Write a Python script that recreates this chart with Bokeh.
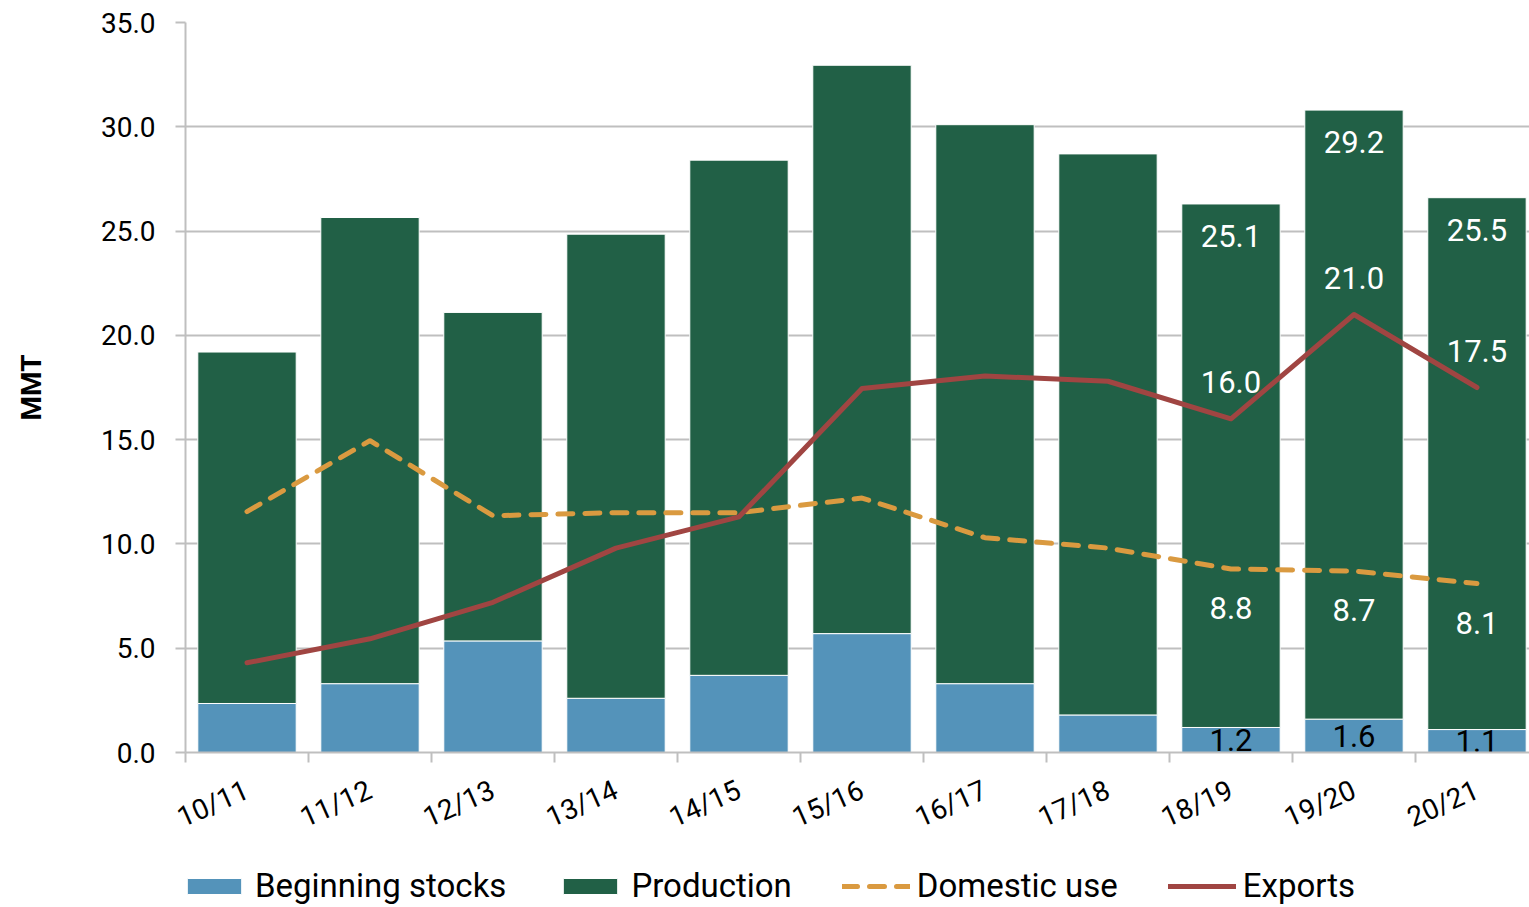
from bokeh.plotting import figure
from bokeh.layouts import column
from bokeh.models import ColumnDataSource, Range1d, FixedTicker, Legend, LegendItem
from bokeh.core.properties import value
from bokeh.embed import file_html
from bokeh.resources import INLINE

years = ["10/11", "11/12", "12/13", "13/14", "14/15", "15/16", "16/17", "17/18", "18/19", "19/20", "20/21"]
beginning_stocks = [2.35, 3.3, 5.35, 2.6, 3.7, 5.7, 3.3, 1.8, 1.2, 1.6, 1.1]
production = [16.85, 22.35, 15.75, 22.25, 24.7, 27.25, 26.8, 26.9, 25.1, 29.2, 25.5]
domestic_use = [11.55, 14.95, 11.35, 11.5, 11.5, 12.2, 10.3, 9.8, 8.8, 8.7, 8.1]
exports = [4.3, 5.45, 7.2, 9.8, 11.3, 17.45, 18.05, 17.8, 16.0, 21.0, 17.5]
y_ticks = [0, 5, 10, 15, 20, 25, 30, 35]
labeled = [8, 9, 10]

FONT = "Roboto"
BLUE = "#5493BA"
GREEN = "#216046"
ORANGE = "#DA9A40"
RED = "#A04542"
GRID = "#BFBFBF"

xs = list(range(len(years)))
totals = [b + p for b, p in zip(beginning_stocks, production)]
src = ColumnDataSource(dict(x=xs, stocks=beginning_stocks, prod=production, total=totals,
                            dom=domestic_use, exp=exports))


def add_series(fig, visible=True):
    r1 = fig.vbar(x="x", top="stocks", bottom=0, width=0.8, source=src,
                  fill_color=BLUE, line_color="white", line_width=1, visible=visible)
    r2 = fig.vbar(x="x", top="total", bottom="stocks", width=0.8, source=src,
                  fill_color=GREEN, line_color="white", line_width=1, visible=visible)
    r3 = fig.line(x="x", y="dom", source=src, line_color=ORANGE, line_width=5,
                  line_dash="15 12", line_cap="round", line_join="round", visible=visible)
    r4 = fig.line(x="x", y="exp", source=src, line_color=RED, line_width=5,
                  line_cap="round", line_join="round", visible=visible)
    return r1, r2, r3, r4


p = figure(width=1529, height=852, output_backend="svg", toolbar_location=None,
           x_range=Range1d(-0.5, 10.427), y_range=Range1d(0, 35),
           min_border_left=185, min_border_right=0, min_border_top=22, min_border_bottom=100)
p.outline_line_color = None
p.background_fill_color = "white"

add_series(p)

# data labels for last three seasons
lx = [xs[i] for i in labeled]
lab_src = ColumnDataSource(dict(
    x=lx,
    total=[totals[i] for i in labeled], prod_t=["%.1f" % production[i] for i in labeled],
    exp=[exports[i] for i in labeled], exp_t=["%.1f" % exports[i] for i in labeled],
    dom=[domestic_use[i] for i in labeled], dom_t=["%.1f" % domestic_use[i] for i in labeled],
    stk=[beginning_stocks[i] / 2 for i in labeled], stk_t=["%.1f" % beginning_stocks[i] for i in labeled],
))
common = dict(source=lab_src, text_font=value(FONT), text_font_size="31px",
              text_align="center", text_baseline="middle")
p.text(x="x", y="total", text="prod_t", y_offset=32, text_color="white", **common)
p.text(x="x", y="exp", text="exp_t", y_offset=-37, text_color="white", **common)
p.text(x="x", y="dom", text="dom_t", y_offset=39, text_color="white", **common)
p.text(x="x", y="stk", text="stk_t", y_offset=0, text_color="black", **common)

# axes
xa = p.xaxis[0]
xa.ticker = FixedTicker(ticks=xs, minor_ticks=[i - 0.5 for i in xs])
xa.major_label_overrides = {i: y for i, y in enumerate(years)}
xa.major_tick_line_color = None
xa.minor_tick_line_color = GRID
xa.minor_tick_line_width = 2
xa.minor_tick_out = 10
xa.minor_tick_in = 0
xa.axis_line_color = GRID
xa.axis_line_width = 2
xa.major_label_orientation = 0.42
xa.major_label_text_font = FONT
xa.major_label_text_font_size = "28px"
xa.major_label_text_color = "black"
xa.major_label_standoff = 26

ya = p.yaxis[0]
ya.ticker = FixedTicker(ticks=y_ticks)
ya.major_label_overrides = {t: "%.1f" % t for t in y_ticks}
ya.major_tick_line_color = GRID
ya.major_tick_line_width = 2
ya.major_tick_out = 10
ya.major_tick_in = 0
ya.minor_tick_line_color = None
ya.axis_line_color = GRID
ya.axis_line_width = 2
ya.major_label_text_font = FONT
ya.major_label_text_font_size = "28px"
ya.major_label_text_color = "black"
ya.major_label_standoff = 20
ya.axis_label = "MMT"
ya.axis_label_text_font = FONT
ya.axis_label_text_font_size = "28px"
ya.axis_label_text_font_style = "bold"
ya.axis_label_text_color = "black"
ya.axis_label_standoff = 50

p.xgrid.grid_line_color = None
p.ygrid.ticker = FixedTicker(ticks=y_ticks)
p.ygrid.grid_line_color = GRID
p.ygrid.grid_line_width = 2

# legend strip below the chart
lg = figure(width=1529, height=55, output_backend="svg", toolbar_location=None,
            x_range=Range1d(0, 1), y_range=Range1d(0, 1),
            min_border_left=185, min_border_right=0, min_border_top=0, min_border_bottom=0)
lg.outline_line_color = None
lg.axis.visible = False
lg.grid.visible = False
rs = add_series(lg, visible=False)

legend = Legend(items=[
    LegendItem(label="Beginning stocks", renderers=[rs[0]]),
    LegendItem(label="Production", renderers=[rs[1]]),
    LegendItem(label="Domestic use", renderers=[rs[2]]),
    LegendItem(label="Exports", renderers=[rs[3]]),
], orientation="horizontal", location=(-5, 2), padding=0, margin=0,
    glyph_width=68, glyph_height=20, spacing=50, label_standoff=7,
    label_text_font=FONT, label_text_font_size="33px", label_text_color="black",
    border_line_color=None, background_fill_alpha=0, click_policy="none")
lg.add_layout(legend, "center")

open("out.html", "w").write(file_html(column(p, lg, spacing=0), INLINE))
